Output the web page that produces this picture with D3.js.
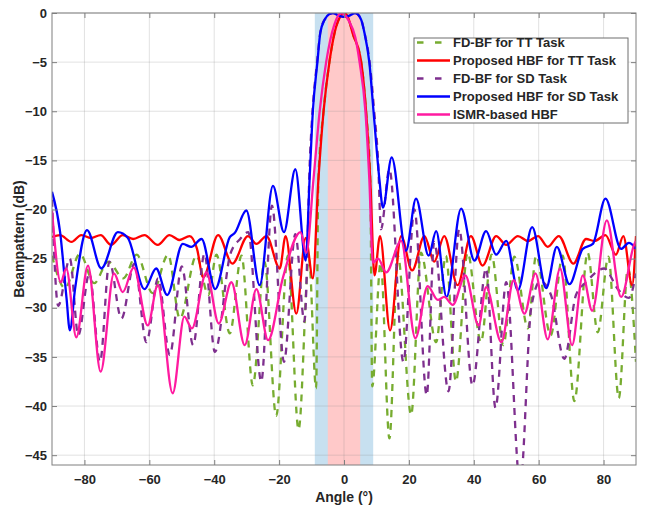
<!DOCTYPE html>
<html>
<head>
<meta charset="utf-8">
<script src="https://cdn.jsdelivr.net/npm/d3@7"></script>
<style>
  body { margin: 0; background: #fff; }
  svg text { font-family: "Liberation Sans", Arial, sans-serif; font-weight: bold; fill: #262626; }
</style>
</head>
<body>
<svg id="chart" width="646" height="507"></svg>
<script>
// values, [angle in deg, beampattern in dB]
const fdTT = [
  [-90, -24.7], [-86, -28], [-81.4, -24.5], [-77, -27.5], [-72.7, -25.3], [-68, -27],
  [-63.9, -24.6], [-59, -28.5], [-54.2, -24.6], [-50.6, -31.1], [-45.5, -24.7], [-41.8, -28.7],
  [-39.3, -24.6], [-35.2, -32.6], [-31.6, -24.7], [-28.1, -37.9], [-24.5, -25.3], [-20.9, -41],
  [-17.3, -24.7], [-14, -42.4], [-10.8, -25], [-8.6, -38.2], [-7.9, -17], [-6.3, -10],
  [-4.5, -5], [-2.9, -2], [-1.2, -0.4], [0, 0], [1.2, -0.4], [2.6, -2], [5.3, -5], [6.8, -10],
  [8.1, -17], [8.7, -38], [11.3, -25.4], [14, -43.3], [16.6, -24.7], [20.7, -40.9], [23.7, -24.4],
  [28.4, -33.5], [31.4, -24.7], [34.5, -37.5], [38.1, -24.4], [42.2, -33.5], [45.5, -24.6],
  [49.1, -33.8], [52.5, -24.8], [56.7, -32.1], [59.2, -24.7], [63.7, -32.8], [67.4, -24.7],
  [71, -39.5], [75.1, -24.4], [78.2, -32.5], [81.5, -24.8], [84.7, -39.2], [87.5, -26], [90, -35.5]
]
const hbfTT = [
  [-90, -22.8], [-87.5, -22.6], [-84, -23.3], [-81, -22.6], [-78, -22.9], [-75, -22.6],
  [-71.8, -23.6], [-68.2, -22.6], [-65, -23], [-61.5, -22.6], [-57.4, -23.6], [-53.8, -22.6],
  [-50.7, -23.1], [-47.6, -22.7], [-45.3, -24], [-43.4, -26.9], [-38.8, -22.6], [-34.4, -25.5],
  [-29.6, -22.7], [-27, -23.5], [-23.9, -22.7], [-19.8, -26], [-18, -22.7], [-14.7, -30.6],
  [-11.8, -22.9], [-9.6, -27], [-7.9, -17], [-6.3, -10], [-4.5, -5], [-2.9, -2], [-1.2, -0.4],
  [0, 0], [1.2, -0.4], [2.6, -2], [5.3, -5], [6.8, -10], [8.1, -17], [9.4, -26.7], [11.1, -22.7],
  [14.2, -32.3], [17.6, -22.7], [21, -26.2], [24.8, -22.7], [27.8, -25.3], [30.9, -22.7],
  [35, -27.7], [39.1, -22.7], [42.7, -25.7], [46.9, -22.7], [50, -23.6], [53.6, -22.7],
  [56.7, -23.2], [59.8, -22.7], [62.8, -23.8], [66.2, -22.7], [70.7, -25.5], [74.6, -23],
  [77.2, -23.2], [80.6, -22.6], [83.8, -24.6], [86.1, -22.7], [88.8, -27.7], [90, -22.7]
]
const fdSD = [
  [-90, -19], [-88.1, -29.8], [-84.5, -25], [-81.9, -32.8], [-78.5, -26.5], [-75.2, -35.5],
  [-72.3, -25.3], [-68.6, -31.1], [-64.6, -25.5], [-60.9, -33.5], [-57.3, -27], [-53.7, -34.8],
  [-50, -25.8], [-46.5, -33.8], [-43, -24.5], [-39.8, -34.5], [-35, -24.5], [-32, -23],
  [-29.5, -22.3], [-25.5, -37.5], [-22.2, -19.6], [-18.5, -35.5], [-15, -22.5], [-12.2, -31.4],
  [-10.4, -14], [-9.7, -10], [-8.3, -5], [-7.3, -2], [-6, -0.7], [-3.4, 0], [0, -0.4], [3.5, 0],
  [5.3, -0.7], [6.3, -2], [7.9, -5], [9.3, -10], [10.5, -15], [11.4, -22], [14, -15.9],
  [18.3, -35.5], [21.7, -20], [25.5, -38.9], [27.8, -23.3], [32.2, -38.5], [35.5, -22],
  [39.6, -37.9], [43.8, -26], [46.7, -40.2], [50, -27.4], [54.3, -48], [57.7, -30], [60.5, -27.3],
  [63.8, -28.7], [67.9, -35.2], [71.5, -28.7], [74.6, -27.4], [80.2, -26], [84.4, -28.1],
  [87.8, -29], [90, -26.5]
]
const hbfSD = [
  [-90, -18.2], [-87.5, -22.3], [-85.5, -29.1], [-84.5, -32.3], [-82.9, -28.1], [-79.2, -22.1],
  [-74.8, -26], [-69.7, -22.3], [-66.6, -22.9], [-61.5, -28.1], [-57.9, -26], [-54.5, -28.7],
  [-49.7, -23.5], [-47.1, -23.8], [-43.9, -23], [-39.7, -28.1], [-35.2, -22.8], [-33.7, -22.4],
  [-30.1, -20.1], [-26, -27.7], [-21.9, -17.6], [-18.5, -22.3], [-15, -15.9], [-11.8, -25.2],
  [-10.6, -16.9], [-9.6, -10], [-8.2, -5], [-7.3, -2], [-6, -0.7], [-4.5, -0.1], [-3.4, 0],
  [-1.5, -0.3], [0, -0.4], [1.5, -0.3], [3.5, 0], [5.3, -0.7], [6.3, -2], [7.8, -5], [9.1, -10],
  [10.9, -16.9], [12, -19.8], [14.7, -14.7], [19.1, -24.2], [22.2, -18.9], [26.1, -24.7],
  [28.4, -22.2], [31.6, -28.9], [36.1, -19.9], [40.2, -25.2], [43.8, -22.2], [46.9, -24.6],
  [50, -23.2], [53.6, -28.2], [58, -21.8], [62.3, -28], [65.6, -23.8], [69.5, -27.6], [73.6, -24],
  [76.7, -23.5], [80.6, -18.9], [85.4, -24], [87.8, -23.4], [90, -24]
]
const ismr = [
  [-90, -20.1], [-87.3, -27.4], [-85.6, -26], [-82.5, -33], [-78.9, -25.7], [-75, -36.5],
  [-70.9, -26.5], [-68.2, -28.4], [-64.8, -25.9], [-60.5, -31.8], [-57.4, -27.7], [-52.8, -38.7],
  [-49.2, -30.9], [-46.9, -32.1], [-42.4, -26.4], [-38.6, -31.6], [-34.7, -27.4], [-30.6, -33.8],
  [-27, -28.1], [-23.4, -33.3], [-18.8, -26.9], [-13.4, -22.3], [-11.6, -24.4], [-9.4, -16.9],
  [-7.5, -10], [-5.5, -5], [-3, -1.2], [-0.9, 0], [1.5, -0.8], [3.5, -2.5], [4.8, -5], [6.6, -10],
  [7.8, -16.9], [8.9, -25.4], [10.5, -25], [13, -26.4], [17.6, -23.2], [22, -33.1], [25.8, -27.8],
  [28.9, -29.2], [30.9, -28.9], [33.5, -29.7], [37.4, -26.7], [41.5, -31.8], [43.8, -27.9],
  [48.5, -33.5], [52.3, -27.2], [55.6, -30.6], [59, -26.5], [62.8, -33.2], [66.6, -26],
  [70.3, -33.8], [73.6, -26.7], [76.5, -30.3], [81, -21.1], [85.4, -28.9], [89.5, -23.5], [90, -23.2]
]

const names = ['FD-BF for TT Task', 'Proposed HBF for TT Task', 'FD-BF for SD Task',
  'Proposed HBF for SD Task', 'ISMR-based HBF']
const xTicks = [-80, -60, -40, -20, 0, 20, 40, 60, 80]
const yTicks = [0, -5, -10, -15, -20, -25, -30, -35, -40, -45]
const sdBand = [-9, 9]
const ttBand = [-5, 5]

const series = [
  { name: names[0], data: fdTT, color: '#77ac30', dash: '7,6', legendDash: '6.5,11.5' },
  { name: names[1], data: hbfTT, color: '#ff0000' },
  { name: names[2], data: fdSD, color: '#7e2f8e', dash: '7,6', legendDash: '6.5,11.5' },
  { name: names[3], data: hbfSD, color: '#0000ff' },
  { name: names[4], data: ismr, color: '#ff1aa0' }
]

const plotL = 52, plotR = 636, plotT = 13, plotB = 465
const svg = d3.select('#chart')
const x = d3.scaleLinear().domain([-90, 90]).range([plotL, plotR])
const y = d3.scaleLinear().domain([-46, 0]).range([plotB, plotT])

svg.append('defs').append('clipPath').attr('id', 'plotClip')
  .append('rect').attr('x', plotL).attr('y', plotT)
  .attr('width', plotR - plotL).attr('height', plotB - plotT)

// shaded beam regions
svg.append('rect')
  .attr('x', x(sdBand[0])).attr('y', plotT)
  .attr('width', x(sdBand[1]) - x(sdBand[0])).attr('height', plotB - plotT)
  .attr('fill', '#c7e0f0')
svg.append('rect')
  .attr('x', x(ttBand[0])).attr('y', plotT)
  .attr('width', x(ttBand[1]) - x(ttBand[0])).attr('height', plotB - plotT)
  .attr('fill', '#ffc9c9')

// grid
const grid = svg.append('g').attr('stroke', '#8c8c8c').attr('stroke-opacity', 0.25)
grid.selectAll('.gx').data(xTicks).enter().append('line')
  .attr('x1', d => x(d)).attr('x2', d => x(d)).attr('y1', plotT).attr('y2', plotB)
grid.selectAll('.gy').data(yTicks).enter().append('line')
  .attr('y1', d => y(d)).attr('y2', d => y(d)).attr('x1', plotL).attr('x2', plotR)

// curves
const line = d3.line()
  .x(d => x(d[0]))
  .y(d => y(d[1]))
  .curve(d3.curveMonotoneX)

const curves = svg.append('g').attr('clip-path', 'url(#plotClip)')
series.forEach(s => {
  curves.append('path')
    .attr('d', line(s.data))
    .attr('fill', 'none')
    .attr('stroke', s.color)
    .attr('stroke-width', 2.3)
    .attr('stroke-linejoin', 'round')
    .attr('stroke-dasharray', s.dash || null)
})

// axes, ticks pointing inwards on all four sides
function styleAxis(g) {
  g.select('.domain').remove()
  g.selectAll('line').attr('stroke', '#7f7f7f')
  g.selectAll('text').style('font-size', '13px').attr('fill', '#262626')
}
svg.append('g').attr('transform', `translate(0,${plotB})`)
  .call(d3.axisBottom(x).tickValues(xTicks).tickSizeInner(-5).tickSizeOuter(0).tickPadding(10))
  .call(styleAxis)
svg.append('g').attr('transform', `translate(0,${plotT})`)
  .call(d3.axisTop(x).tickValues(xTicks).tickSizeInner(-5).tickSizeOuter(0).tickFormat(''))
  .call(styleAxis)
svg.append('g').attr('transform', `translate(${plotL},0)`)
  .call(d3.axisLeft(y).tickValues(yTicks).tickSizeInner(-5).tickSizeOuter(0).tickPadding(5))
  .call(styleAxis)
svg.append('g').attr('transform', `translate(${plotR},0)`)
  .call(d3.axisRight(y).tickValues(yTicks).tickSizeInner(-5).tickSizeOuter(0).tickFormat(''))
  .call(styleAxis)
svg.selectAll('.tick text').attr('font-family', 'Liberation Sans, Arial, sans-serif')

svg.append('rect')
  .attr('x', plotL).attr('y', plotT).attr('width', plotR - plotL).attr('height', plotB - plotT)
  .attr('fill', 'none').attr('stroke', '#7f7f7f').attr('stroke-width', 1)

// axis titles
svg.append('text')
  .attr('x', (plotL + plotR) / 2).attr('y', 502)
  .attr('text-anchor', 'middle').style('font-size', '14px')
  .text('Angle (°)')
svg.append('text')
  .attr('transform', `translate(24,${(plotT + plotB) / 2}) rotate(-90)`)
  .attr('text-anchor', 'middle').style('font-size', '14px')
  .text('Beampattern (dB)')

// legend
const legend = svg.append('g').attr('transform', 'translate(414,38)')
legend.append('rect')
  .attr('width', 214).attr('height', 85)
  .attr('fill', '#fff').attr('stroke', '#6e6e6e').attr('stroke-width', 1)
series.forEach((s, i) => {
  const cy = 4.5 + i * 18
  legend.append('line')
    .attr('x1', 3).attr('x2', 36).attr('y1', cy).attr('y2', cy)
    .attr('stroke', s.color).attr('stroke-width', 2.3)
    .attr('stroke-dasharray', s.legendDash || null)
  legend.append('text')
    .attr('x', 39).attr('y', cy).attr('dy', '0.35em')
    .style('font-size', '13px')
    .text(s.name)
})
</script>
</body>
</html>
